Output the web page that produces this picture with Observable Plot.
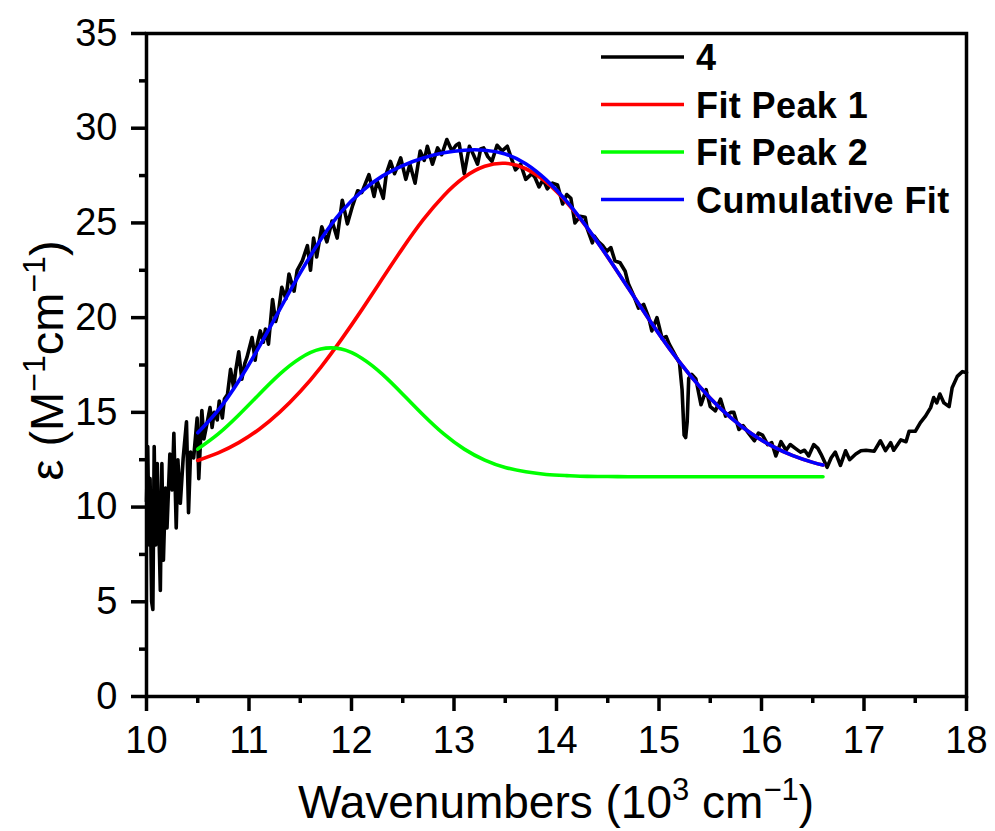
<!DOCTYPE html>
<html>
<head>
<meta charset="utf-8">
<script src="https://cdn.jsdelivr.net/npm/d3@7"></script>
<script src="https://cdn.jsdelivr.net/npm/@observablehq/plot@0.6"></script>
<style>
  html, body { margin: 0; padding: 0; background: #fff; }
  svg { display: block; }
</style>
</head>
<body>
<div id="chart"></div>
<script>
// ---- data ----
const specX = [10.000,10.012,10.025,10.035,10.050,10.062,10.075,10.090,10.105,10.120,10.135,10.150,10.165,10.185,10.200,10.228,10.250,10.267,10.290,10.306,10.330,10.358,10.390,10.410,10.430,10.460,10.494,10.510,10.540,10.560,10.590,10.620,10.640,10.660,10.690,10.710,10.740,10.760,10.790,10.820,10.850,10.870,10.900,10.930,10.960,10.980,11.030,11.060,11.080,11.110,11.140,11.160,11.190,11.230,11.260,11.290,11.320,11.360,11.390,11.440,11.470,11.520,11.570,11.600,11.630,11.660,11.710,11.760,11.810,11.860,11.910,11.960,12.010,12.060,12.100,12.170,12.220,12.250,12.280,12.310,12.340,12.380,12.420,12.450,12.480,12.530,12.570,12.620,12.670,12.710,12.740,12.790,12.840,12.880,12.930,12.980,13.020,13.050,13.100,13.150,13.190,13.230,13.260,13.290,13.330,13.370,13.420,13.470,13.520,13.570,13.600,13.650,13.700,13.760,13.790,13.830,13.870,13.910,13.960,14.010,14.060,14.100,14.140,14.180,14.230,14.280,14.300,14.350,14.370,14.410,14.450,14.490,14.530,14.570,14.620,14.670,14.700,14.750,14.800,14.850,14.900,14.930,14.980,15.030,15.070,15.100,15.150,15.200,15.225,15.245,15.260,15.275,15.290,15.320,15.360,15.410,15.460,15.500,15.550,15.600,15.650,15.700,15.730,15.780,15.820,15.860,15.930,15.970,16.010,16.060,16.100,16.140,16.190,16.240,16.280,16.330,16.380,16.420,16.460,16.510,16.550,16.580,16.640,16.680,16.720,16.770,16.820,16.860,16.920,16.970,17.020,17.100,17.160,17.210,17.260,17.290,17.360,17.410,17.440,17.500,17.550,17.600,17.650,17.680,17.710,17.740,17.780,17.830,17.860,17.910,17.960,18.000];
const specY = [10.3,13.2,8.0,11.5,5.0,4.6,13.2,8.0,12.3,9.0,5.6,12.3,7.2,11.0,8.9,12.8,10.9,13.9,8.9,12.5,10.2,12.6,14.5,9.7,12.9,12.6,14.7,11.5,15.1,13.6,14.4,15.25,14.2,15.0,14.6,15.6,14.7,15.7,15.95,17.27,16.3,17.2,18.2,16.75,17.6,17.9,18.95,17.75,18.6,19.3,18.7,19.4,18.6,20.96,19.8,20.4,21.6,21.0,22.3,21.4,22.5,23.0,23.8,22.5,24.2,23.2,24.8,24.0,25.1,24.2,26.2,24.95,25.9,26.7,26.6,27.55,26.4,27.2,26.8,26.3,27.6,28.25,27.6,28.0,28.43,27.3,28.1,27.1,28.8,28.3,29.05,28.1,28.96,28.6,29.4,28.8,29.1,29.2,27.6,29.05,28.6,28.1,28.9,28.96,28.5,28.25,29.1,28.8,29.05,28.25,27.8,28.1,27.3,27.6,27.4,26.9,27.3,26.8,27.1,27.0,26.0,26.5,26.3,25.0,25.35,25.3,24.7,23.95,24.3,24.0,23.8,23.5,23.7,23.0,22.9,22.45,21.8,21.2,20.5,20.7,20.0,19.3,20.0,18.9,19.0,18.6,18.1,17.6,16.2,13.8,13.67,14.5,16.8,17.0,16.76,15.4,16.2,15.3,15.08,15.7,14.8,15.0,15.0,14.1,14.3,14.0,13.5,13.9,13.8,13.3,13.4,12.7,13.45,13.0,13.3,13.1,12.9,13.0,12.7,13.3,13.1,12.8,12.1,12.6,12.9,12.2,12.97,12.5,12.8,12.97,13.0,12.95,13.5,12.98,13.4,13.0,13.55,13.45,14.0,14.0,14.46,14.8,15.25,15.78,15.5,15.97,15.5,15.3,16.3,16.9,17.15,17.1];

const fitX   = [10.5,10.7,10.9,11.1,11.3,11.5,11.7,11.9,12.1,12.3,12.5,12.7,12.9,13.1,13.3,13.5,13.7,13.9,14.1,14.3,14.5,14.7,14.9,15.1,15.3,15.5,15.7,15.9,16.1,16.3,16.5,16.6];
const peak1Y = [12.46,12.86,13.40,14.11,15.01,16.10,17.38,18.84,20.41,22.05,23.67,25.17,26.44,27.41,27.99,28.15,27.86,27.15,26.08,24.73,23.19,21.56,19.93,18.38,16.98,15.75,14.72,13.88,13.23,12.73,12.36,12.22];
const peak2Y = [13.06,13.86,14.86,15.96,17.02,17.86,18.34,18.34,17.86,17.02,15.96,14.86,13.86,13.06,12.48,12.09,11.86,11.72,11.66,11.62,11.61,11.60,11.60,11.60,11.60,11.60,11.60,11.60,11.60,11.60,11.60,11.60];
const cumY   = [13.92,15.12,16.66,18.47,20.43,22.36,24.12,25.58,26.67,27.47,28.03,28.43,28.70,28.84,28.84,28.64,28.12,27.27,26.14,24.75,23.20,21.56,19.93,18.38,16.98,15.75,14.72,13.88,13.23,12.73,12.36,12.22];

const xMajorTicks = [10,11,12,13,14,15,16,17,18];
const xMinorTicks = [10.5,11.5,12.5,13.5,14.5,15.5,16.5,17.5];
const yMajorTicks = [0,5,10,15,20,25,30,35];
const yMinorTicks = [2.5,7.5,12.5,17.5,22.5,27.5,32.5];

const legendLabels = ["4","Fit Peak 1","Fit Peak 2","Cumulative Fit"];
const seriesColors = ["#000000","#ff0000","#00ff00","#0000ff"];

// ---- tables for the library ----
const spectrum = specX.map((x, i) => ({x, y: specY[i]}));
const fitSeries = [peak1Y, peak2Y, cumY].map((ys, k) =>
  fitX.map((x, i) => ({x, y: ys[i], s: legendLabels[k + 1]})));

const W = 995, H = 831;
const mL = 146, mR = 29, mT = 33, mB = 135;
const FONT = "'Liberation Sans', Arial, sans-serif";

const chart = Plot.plot({
  width: W, height: H,
  marginLeft: mL, marginRight: mR, marginTop: mT, marginBottom: mB,
  style: {fontFamily: FONT, background: "#fff", color: "#000"},
  x: {domain: [10, 18]},
  y: {domain: [0, 35]},
  marks: [
    Plot.line(spectrum, {x: "x", y: "y", stroke: seriesColors[0], strokeWidth: 3.6, strokeLinejoin: "round"}),
    ...fitSeries.map((d, k) => Plot.line(d, {x: "x", y: "y", stroke: seriesColors[k + 1], strokeWidth: 3.6, curve: "natural"})),
    Plot.axisX({ticks: xMajorTicks, tickSize: 15, tickPadding: 15, fontSize: 38, strokeWidth: 3.5, label: null, tickFormat: d => String(d)}),
    Plot.axisX({ticks: xMinorTicks, tickSize: 7, strokeWidth: 3.5, label: null, tickFormat: () => ""}),
    Plot.axisY({ticks: yMajorTicks, tickSize: 15, tickPadding: 14, fontSize: 38, strokeWidth: 3.5, label: null, tickFormat: d => String(d)}),
    Plot.axisY({ticks: yMinorTicks, tickSize: 7, strokeWidth: 3.5, label: null, tickFormat: () => ""}),
    Plot.frame({stroke: "#000", strokeWidth: 3.5})
  ]
});

document.getElementById("chart").appendChild(chart);

// ---- axis titles with superscripts ----
const svg = d3.select(chart);
const xs = chart.scale("x"), ys = chart.scale("y");
const cx = (xs.range[0] + xs.range[1]) / 2;
const cy = (ys.range[0] + ys.range[1]) / 2;

const xt = svg.append("text")
  .attr("x", cx).attr("y", 818)
  .attr("text-anchor", "middle")
  .attr("font-family", FONT)
  .attr("font-size", 46).attr("fill", "#000");
xt.append("tspan").text("Wavenumbers (10");
xt.append("tspan").attr("dy", -18).attr("font-size", 31).text("3");
xt.append("tspan").attr("dy", 18).text(" cm");
xt.append("tspan").attr("dy", -18).attr("font-size", 31).text("\u22121");
xt.append("tspan").attr("dy", 18).text(")");

const yt = svg.append("text")
  .attr("transform", `translate(63,${cy - 4}) rotate(-90)`)
  .attr("text-anchor", "middle")
  .attr("font-family", FONT)
  .attr("font-size", 47).attr("fill", "#000");
yt.append("tspan").text("\u03b5 (M");
yt.append("tspan").attr("dy", -18).attr("font-size", 32).text("\u22121");
yt.append("tspan").attr("dy", 18).text("cm");
yt.append("tspan").attr("dy", -18).attr("font-size", 32).text("\u22121");
yt.append("tspan").attr("dy", 18).text(")");

// ---- legend ----
const lg = svg.append("g");
legendLabels.forEach((lab, i) => {
  const yy = 57 + i * 47.5;
  lg.append("line").attr("x1", 601).attr("x2", 684).attr("y1", yy).attr("y2", yy)
    .attr("stroke", seriesColors[i]).attr("stroke-width", 3.6);
  lg.append("text").attr("x", 696).attr("y", yy + 13)
    .attr("text-anchor", "start")
    .attr("font-family", FONT)
    .attr("font-weight", "bold").attr("font-size", 36)
    .attr("letter-spacing", 0.4)
    .attr("fill", "#000").text(lab);
});
</script>
</body>
</html>
